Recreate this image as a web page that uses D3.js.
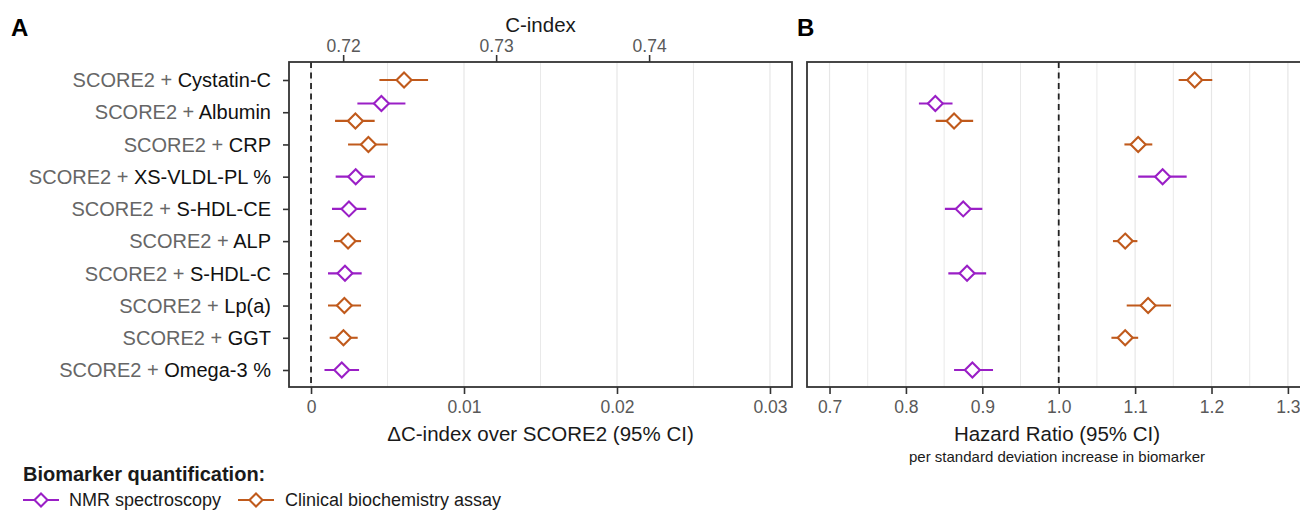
<!DOCTYPE html>
<html>
<head>
<meta charset="utf-8">
<script src="https://cdn.jsdelivr.net/npm/d3@7"></script>
<style>
  html, body { margin: 0; padding: 0; background: #fff; }
  svg { display: block; font-family: "Liberation Sans", Arial, Helvetica, sans-serif; }
</style>
</head>
<body>
<svg id="chart" width="1300" height="510"></svg>
<script>
// ---------------- data ----------------
const categories = ["Cystatin-C", "Albumin", "CRP", "XS-VLDL-PL %", "S-HDL-CE", "ALP",
                    "S-HDL-C", "Lp(a)", "GGT", "Omega-3 %"];
const markers = ["Cystatin-C", "Albumin", "Albumin", "CRP", "XS-VLDL-PL %", "S-HDL-CE",
                 "ALP", "S-HDL-C", "Lp(a)", "GGT", "Omega-3 %"];
const methods = ["Clinical", "NMR", "Clinical", "Clinical", "NMR", "NMR",
                 "Clinical", "NMR", "Clinical", "Clinical", "NMR"];
const deltaC   = [0.00608, 0.00460, 0.00290, 0.00375, 0.00292, 0.00248, 0.00242, 0.00222, 0.00218, 0.00212, 0.00201];
const deltaCLo = [0.00447, 0.00303, 0.00157, 0.00242, 0.00161, 0.00137, 0.00150, 0.00111, 0.00111, 0.00122, 0.00088];
const deltaCHi = [0.00765, 0.00617, 0.00416, 0.00502, 0.00418, 0.00361, 0.00327, 0.00331, 0.00327, 0.00305, 0.00314];
const hr   = [1.178, 0.8385, 0.863, 1.104, 1.136, 0.875, 1.087, 0.880, 1.117, 1.087, 0.887];
const hrLo = [1.157, 0.817,  0.839, 1.086, 1.104, 0.851, 1.071, 0.8555, 1.089, 1.069, 0.863];
const hrHi = [1.201, 0.861,  0.888, 1.1225, 1.1675, 0.900, 1.103, 0.905, 1.147, 1.104, 0.914];
const score2CIndex = 0.7179;
const deltaTicks = [0, 0.01, 0.02, 0.03];
const deltaMinor = [0.005, 0.015, 0.025];
const cIndexTicks = [0.72, 0.73, 0.74];
const hrTicks = [0.7, 0.8, 0.9, 1.0, 1.1, 1.2, 1.3];
const hrMinor = [0.75, 0.85, 0.95, 1.05, 1.15, 1.25];
const methodNames = ["NMR", "Clinical"];
const methodLabels = ["NMR spectroscopy", "Clinical biochemistry assay"];

// ---------------- styling ----------------
const colors = { NMR: "#9A1FC6", Clinical: "#C05A1C" };
const points = markers.map((m, i) => ({
  marker: m, method: methods[i],
  d: deltaC[i], dLo: deltaCLo[i], dHi: deltaCHi[i],
  h: hr[i], hLo: hrLo[i], hHi: hrHi[i]
}));

const svg = d3.select("#chart");
const yTop = 62, yBot = 387;
const A = { x0: 289, x1: 792 };
const B = { x0: 807, x1: 1307 };

const y = d3.scalePoint().domain(categories).range([80, 370]);
const dodgeAmt = y.step() * 0.27;
function yPos(p) {
  const n = points.filter(q => q.marker === p.marker).length;
  if (n === 1) return y(p.marker);
  return y(p.marker) + (p.method === "NMR" ? -dodgeAmt : dodgeAmt);
}

const xA = d3.scaleLinear().domain([-0.00144, 0.03144]).range([A.x0, A.x1]);
const xC = d3.scaleLinear().domain([score2CIndex - 0.00144, score2CIndex + 0.03144]).range([A.x0, A.x1]);
const xB = d3.scaleLinear().domain([0.6705, 1.3250]).range([B.x0, B.x1]);

const diamond = r => `M0,${-r}L${r},0L0,${r}L${-r},0Z`;
const grid = "#E6E6E6", border = "#333333", tickCol = "#595959";

svg.append("defs").append("clipPath").attr("id", "clipB")
  .append("rect").attr("x", B.x0 - 2).attr("y", yTop - 2).attr("width", B.x1 - B.x0 + 4).attr("height", yBot - yTop + 4);

function panel(g, x, x0, x1, major, minor, ref, key, lo, hi) {
  g.selectAll("line.minor").data(minor).join("line").attr("class", "minor")
    .attr("x1", d => x(d)).attr("x2", d => x(d)).attr("y1", yTop).attr("y2", yBot)
    .attr("stroke", grid).attr("stroke-width", 0.9);
  g.selectAll("line.major").data(major).join("line").attr("class", "major")
    .attr("x1", d => x(d)).attr("x2", d => x(d)).attr("y1", yTop).attr("y2", yBot)
    .attr("stroke", grid).attr("stroke-width", 1.2);
  g.append("line").attr("x1", x(ref)).attr("x2", x(ref)).attr("y1", yTop).attr("y2", yBot)
    .attr("stroke", "#222").attr("stroke-width", 1.8).attr("stroke-dasharray", "6,4.5");
  g.selectAll("line.ci").data(points).join("line").attr("class", "ci")
    .attr("x1", d => x(d[lo])).attr("x2", d => x(d[hi]))
    .attr("y1", yPos).attr("y2", yPos)
    .attr("stroke", d => colors[d.method]).attr("stroke-width", 2.1);
  g.selectAll("path.pt").data(points).join("path").attr("class", "pt")
    .attr("d", diamond(7.5))
    .attr("transform", d => `translate(${x(d[key])},${yPos(d)})`)
    .attr("fill", "#fff").attr("stroke", d => colors[d.method]).attr("stroke-width", 2.1);
  g.append("rect").attr("x", x0).attr("y", yTop).attr("width", x1 - x0).attr("height", yBot - yTop)
    .attr("fill", "none").attr("stroke", border).attr("stroke-width", 1.8);
}

function styleAxis(ax) {
  ax.select(".domain").remove();
  ax.selectAll(".tick line").attr("stroke", border).attr("stroke-width", 1.6);
  ax.selectAll(".tick text").attr("fill", tickCol).attr("font-size", 17.5)
    .attr("font-family", "Liberation Sans, Arial, sans-serif");
}

// ---------- Panel A ----------
const gA = svg.append("g");
panel(gA, xA, A.x0, A.x1, deltaTicks, deltaMinor, 0, "d", "dLo", "dHi");

const axA = svg.append("g").attr("transform", `translate(0,${yBot})`)
  .call(d3.axisBottom(xA).tickValues(deltaTicks).tickFormat(d => d === 0 ? "0" : d3.format(".2~f")(d))
        .tickSize(7).tickPadding(7));
const axC = svg.append("g").attr("transform", `translate(0,${yTop})`)
  .call(d3.axisTop(xC).tickValues(cIndexTicks).tickFormat(d3.format(".2f")).tickSize(7).tickPadding(3));
const axY = svg.append("g").attr("transform", `translate(${A.x0},0)`)
  .call(d3.axisLeft(y).tickSize(6).tickFormat(""));
[axA, axC, axY].forEach(styleAxis);

const labels = svg.append("g").selectAll("text").data(categories).join("text")
  .attr("x", 271).attr("y", d => y(d)).attr("dy", "0.36em")
  .attr("text-anchor", "end").attr("font-size", 20);
labels.append("tspan").attr("fill", "#666").text("SCORE2 + ");
labels.append("tspan").attr("fill", "#111").text(d => d);

svg.append("text").attr("x", (A.x0 + A.x1) / 2).attr("y", 32).attr("text-anchor", "middle")
  .attr("font-size", 20.5).attr("fill", "#1a1a1a").text("C-index");
svg.append("text").attr("x", (A.x0 + A.x1) / 2).attr("y", 441).attr("text-anchor", "middle")
  .attr("font-size", 20.5).attr("fill", "#1a1a1a").text("\u0394C-index over SCORE2 (95% CI)");

// ---------- Panel B ----------
const gB = svg.append("g").attr("clip-path", "url(#clipB)");
panel(gB, xB, B.x0, B.x1, hrTicks, hrMinor, 1.0, "h", "hLo", "hHi");
const axB = svg.append("g").attr("transform", `translate(0,${yBot})`)
  .call(d3.axisBottom(xB).tickValues(hrTicks).tickFormat(d3.format(".1f")).tickSize(7).tickPadding(7));
styleAxis(axB);

svg.append("text").attr("x", (B.x0 + B.x1) / 2).attr("y", 441).attr("text-anchor", "middle")
  .attr("font-size", 20.5).attr("fill", "#1a1a1a").text("Hazard Ratio (95% CI)");
svg.append("text").attr("x", (B.x0 + B.x1) / 2).attr("y", 462).attr("text-anchor", "middle")
  .attr("font-size", 15).attr("fill", "#1a1a1a").text("per standard deviation increase in biomarker");

// panel tags
svg.append("text").attr("x", 11).attr("y", 36).attr("font-size", 24).attr("font-weight", "bold").text("A");
svg.append("text").attr("x", 797).attr("y", 36).attr("font-size", 24).attr("font-weight", "bold").text("B");

// ---------- Legend ----------
svg.append("text").attr("x", 23).attr("y", 481).attr("font-size", 20).attr("font-weight", "bold")
  .attr("fill", "#1a1a1a").text("Biomarker quantification:");
const legX = [23, 238];
const leg = svg.append("g").selectAll("g").data(methodNames).join("g")
  .attr("transform", (d, i) => `translate(${legX[i]},500)`);
leg.append("line").attr("x1", 0).attr("x2", 36).attr("y1", 0).attr("y2", 0)
  .attr("stroke", d => colors[d]).attr("stroke-width", 2.1);
leg.append("path").attr("d", diamond(6.5)).attr("transform", "translate(18,0)")
  .attr("fill", "#fff").attr("stroke", d => colors[d]).attr("stroke-width", 2.1);
leg.append("text").attr("x", (d, i) => i === 0 ? 46 : 47).attr("y", 6).attr("font-size", 18)
  .attr("fill", "#1a1a1a").text((d, i) => methodLabels[i]);
</script>
</body>
</html>
